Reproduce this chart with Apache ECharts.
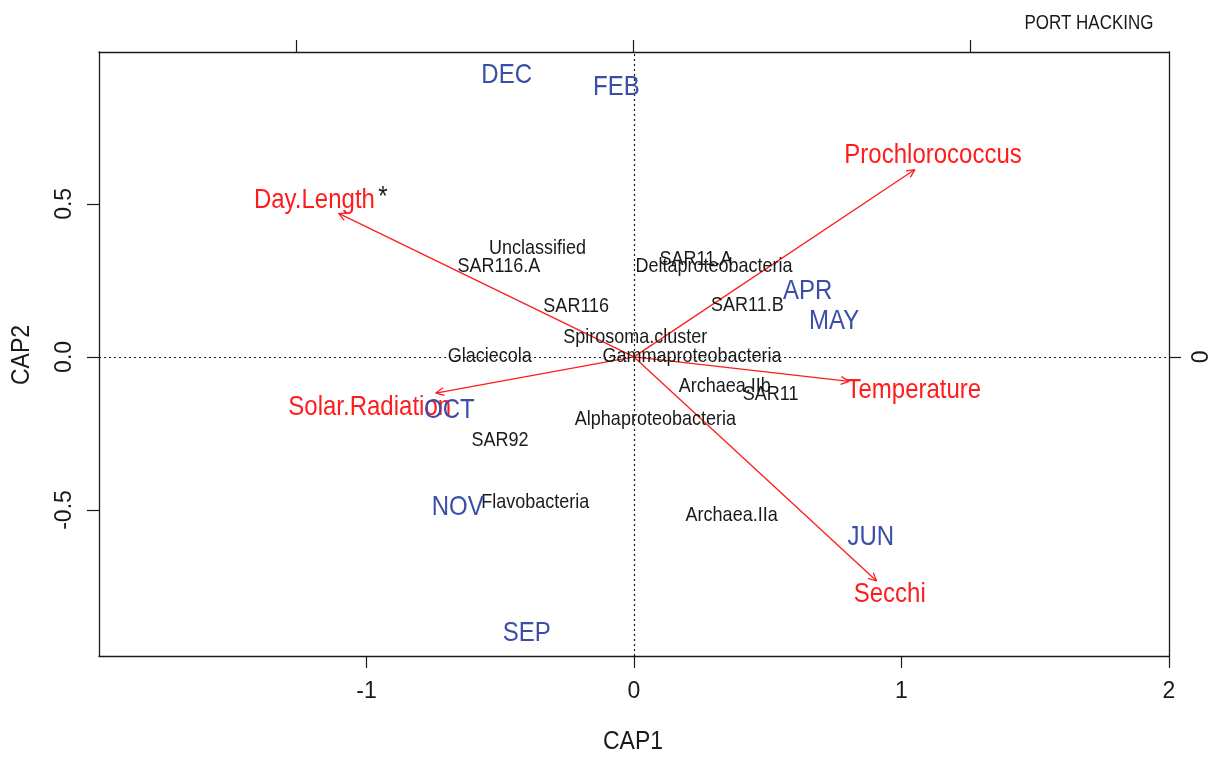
<!DOCTYPE html>
<html>
<head>
<meta charset="utf-8">
<script src="https://cdn.jsdelivr.net/npm/echarts@6/dist/echarts.min.js"></script>
<style>
  html, body { margin: 0; padding: 0; background: #fff; }
  #chart { width: 1215px; height: 758px; }
</style>
</head>
<body>
<div id="chart"></div>
<script>
// Sampling months (site scores)
const months = ['DEC', 'FEB', 'APR', 'MAY', 'OCT', 'NOV', 'JUN', 'SEP'];
const monthCap1 = [-0.476, -0.066, 0.649, 0.748, -0.690, -0.659, 0.885, -0.401];
const monthCap2 = [0.920, 0.880, 0.215, 0.117, -0.174, -0.491, -0.589, -0.903];

// Taxa (species scores)
const taxa = ['Unclassified', 'SAR116.A', 'SAR11.A', 'Deltaproteobacteria', 'SAR116', 'SAR11.B',
  'Spirosoma.cluster', 'Glaciecola', 'Gammaproteobacteria', 'Archaea.IIb', 'SAR11',
  'Alphaproteobacteria', 'SAR92', 'Flavobacteria', 'Archaea.IIa'];
const taxaCap1 = [-0.361, -0.505, 0.231, 0.299, -0.216, 0.424, 0.005, -0.539, 0.217, 0.339, 0.511, 0.080, -0.501, -0.369, 0.365];
const taxaCap2 = [0.354, 0.297, 0.318, 0.294, 0.166, 0.169, 0.065, 0.002, 0.002, -0.095, -0.122, -0.205, -0.272, -0.474, -0.517];

// Environmental vectors: arrow tips and label positions
const envVars = ['Day.Length', 'Prochlorococcus', 'Temperature', 'Solar.Radiation', 'Secchi'];
const envCap1 = [-1.104, 1.050, 0.804, -0.741, 0.907];
const envCap2 = [0.469, 0.612, -0.080, -0.118, -0.732];
const envLabelCap1 = [-1.171, 1.118, 1.046, -0.988, 0.956];
const envLabelCap2 = [0.512, 0.659, -0.109, -0.164, -0.776];
const envFlag = ['*', '', '', '', ''];

// Axis ticks
const cap1Ticks = [-1, 0, 1, 2];
const cap2Ticks = [-0.5, 0, 0.5];
const topTicks = [-1, 0, 1];
const rightTicks = [0];

const RED = '#ff1c1c';
const BLUE = '#3a4ea8';
const INK = '#1a1a1a';
const FONT = '"Liberation Sans", Arial, sans-serif';
const TALL = 1.12; // glyphs are drawn slightly taller than wide

const chart = echarts.init(document.getElementById('chart'), null, { renderer: 'canvas' });

function textSeries(names, xs, ys, color, size, z, flags) {
  return {
    type: 'custom',
    xAxisIndex: 0, yAxisIndex: 0,
    z: z,
    silent: true,
    data: names.map((n, i) => [xs[i], ys[i]]),
    renderItem: function (params, api) {
      const p = api.coord([api.value(0), api.value(1)]);
      const i = params.dataIndex;
      const flag = flags ? flags[i] : '';
      if (flag) {
        return {
          type: 'text', x: p[0], y: p[1], scaleY: TALL,
          style: {
            text: '{a|' + names[i] + '} {b|' + flag + '}',
            align: 'center', verticalAlign: 'middle',
            rich: {
              a: { fill: color, font: size + 'px ' + FONT },
              b: { fill: INK, font: size + 'px ' + FONT, padding: [0, 0, 4, 0] }
            }
          }
        };
      }
      return {
        type: 'text', x: p[0], y: p[1], scaleY: TALL,
        style: {
          text: names[i], fill: color,
          font: size + 'px ' + FONT,
          align: 'center', verticalAlign: 'middle'
        }
      };
    }
  };
}

const option = {
  animation: false,
  backgroundColor: '#fff',
  grid: { left: 99, top: 52, right: 46, bottom: 102, containLabel: false },
  xAxis: [
    {
      type: 'value', position: 'bottom', min: -2, max: 2,
      axisLine: { show: true, onZero: false, lineStyle: { color: INK, width: 1.3 } },
      axisTick: { show: true, length: 12, customValues: cap1Ticks, lineStyle: { color: INK, width: 1.2 } },
      axisLabel: { show: true, customValues: cap1Ticks, margin: 24, color: INK, fontSize: 23, fontFamily: FONT },
      splitLine: { show: false }
    },
    {
      type: 'value', position: 'top', min: -1.585, max: 1.59,
      axisLine: { show: true, onZero: false, lineStyle: { color: INK, width: 1.3 } },
      axisTick: { show: true, length: 12, customValues: topTicks, lineStyle: { color: INK, width: 1.2 } },
      axisLabel: { show: false },
      splitLine: { show: false }
    }
  ],
  yAxis: [
    {
      type: 'value', position: 'left', min: -0.977, max: 0.996,
      axisLine: { show: true, onZero: false, lineStyle: { color: INK, width: 1.3 } },
      axisTick: { show: true, length: 12, customValues: cap2Ticks, lineStyle: { color: INK, width: 1.2 } },
      axisLabel: {
        show: true, customValues: cap2Ticks, rotate: 90, margin: 23,
        color: INK, fontSize: 23, fontFamily: FONT,
        formatter: v => v.toFixed(1)
      },
      splitLine: { show: false }
    },
    {
      type: 'value', position: 'right', min: -0.977, max: 0.996,
      axisLine: { show: true, onZero: false, lineStyle: { color: INK, width: 1.3 } },
      axisTick: { show: true, length: 12, customValues: rightTicks, lineStyle: { color: INK, width: 1.2 } },
      axisLabel: {
        show: true, customValues: rightTicks, rotate: 90, margin: 21,
        color: INK, fontSize: 23, fontFamily: FONT,
        formatter: v => String(v)
      },
      splitLine: { show: false }
    }
  ],
  graphic: [
    { type: 'text', x: 633, y: 742, scaleY: 1.15, style: { text: 'CAP1', fill: INK, font: '23px ' + FONT, align: 'center', verticalAlign: 'middle' } },
    { type: 'text', x: 22, y: 355, rotation: Math.PI / 2, scaleY: 1.15, style: { text: 'CAP2', fill: INK, font: '23px ' + FONT, align: 'center', verticalAlign: 'middle' } },
    { type: 'text', x: 1089, y: 23, scaleY: 1.2, style: { text: 'PORT HACKING', fill: INK, font: '17px ' + FONT, align: 'center', verticalAlign: 'middle' } }
  ],
  series: [
    // dotted reference lines through the origin
    {
      type: 'scatter', xAxisIndex: 0, yAxisIndex: 0, data: [], silent: true,
      markLine: {
        silent: true, symbol: ['none', 'none'], label: { show: false },
        lineStyle: { type: [2, 3], color: INK, width: 1.2 },
        data: [{ xAxis: 0 }, { yAxis: 0 }]
      }
    },
    // environmental arrows from the origin
    {
      type: 'custom', xAxisIndex: 0, yAxisIndex: 0, z: 3, silent: true,
      data: envVars.map((n, i) => [envCap1[i], envCap2[i]]),
      renderItem: function (params, api) {
        const o = api.coord([0, 0]);
        const t = api.coord([api.value(0), api.value(1)]);
        const ang = Math.atan2(t[1] - o[1], t[0] - o[0]);
        const L = 9, a = Math.PI / 7;
        const h1 = [t[0] - L * Math.cos(ang - a), t[1] - L * Math.sin(ang - a)];
        const h2 = [t[0] - L * Math.cos(ang + a), t[1] - L * Math.sin(ang + a)];
        const st = { stroke: RED, lineWidth: 1.3 };
        return {
          type: 'group',
          children: [
            { type: 'line', shape: { x1: o[0], y1: o[1], x2: t[0], y2: t[1] }, style: st },
            { type: 'line', shape: { x1: t[0], y1: t[1], x2: h1[0], y2: h1[1] }, style: st },
            { type: 'line', shape: { x1: t[0], y1: t[1], x2: h2[0], y2: h2[1] }, style: st }
          ]
        };
      }
    },
    textSeries(taxa, taxaCap1, taxaCap2, INK, 18, 4),
    textSeries(envVars, envLabelCap1, envLabelCap2, RED, 24, 5, envFlag),
    textSeries(months, monthCap1, monthCap2, BLUE, 24, 6)
  ]
};

chart.setOption(option);
</script>
</body>
</html>
